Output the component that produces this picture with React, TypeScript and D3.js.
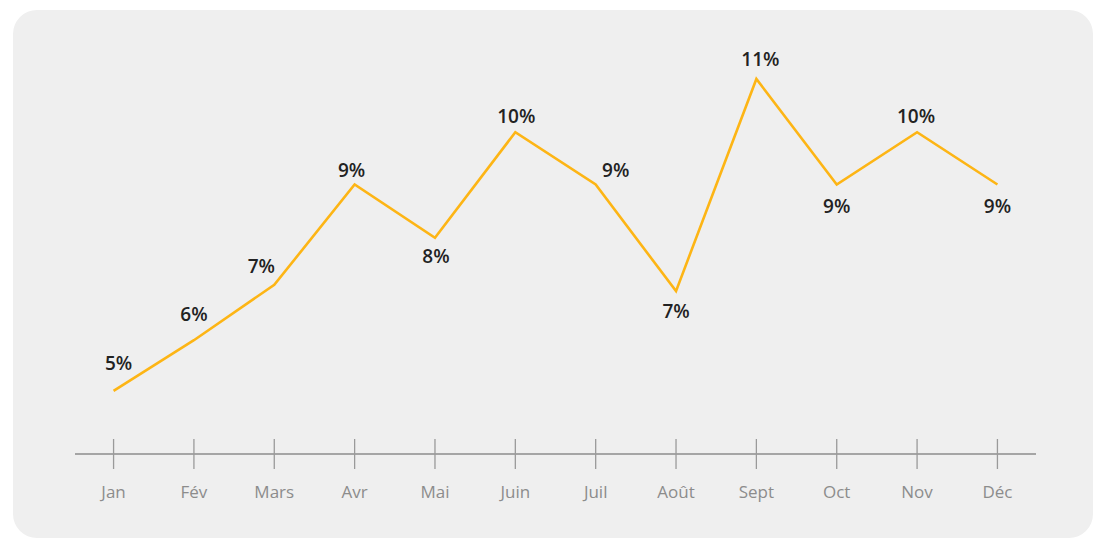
import React from "react";
import * as d3 from "d3";

const months = ["Jan", "Fév", "Mars", "Avr", "Mai", "Juin", "Juil", "Août", "Sept", "Oct", "Nov", "Déc"];
const rates = [5.05, 6.02, 7.08, 9.0, 7.98, 10.0, 9.0, 6.96, 11.02, 9.0, 10.0, 9.0];
const labels = ["5%", "6%", "7%", "9%", "8%", "10%", "9%", "7%", "11%", "9%", "10%", "9%"];

// label placement (layout only)
const labelDx = [5, 0, -13, -3, 1, 1, 20, 0, 4, 0, -1, 0];
const labelDy = [-28, -26, -19, -15, 18, -16, -15, 20, -20, 21, -16, 21];

const W = 1110;
const H = 551;

export default function App() {
  const x = d3.scalePoint<string>().domain(months).range([75, 1036]).padding(0.48);
  const y = d3.scaleLinear().domain([5, 11]).range([393.5, 80]);
  const line = d3
    .line<number>()
    .x((_, i) => x(months[i]) as number)
    .y((d) => y(d));
  const axisY = 454;
  return (
    <svg
      width={W}
      height={H}
      style={{ position: "absolute", left: 0, top: 0, display: "block" }}
    >
      <rect x={0} y={0} width={W} height={H} fill="#ffffff" />
      <rect x={13} y={10} width={1080} height={528} rx={24} ry={24} fill="#efefef" />
      <line x1={75} x2={1036} y1={axisY} y2={axisY} stroke="#8c8c8c" strokeWidth={1.3} />
      {months.map((m) => (
        <g key={m}>
          <line
            x1={x(m)}
            x2={x(m)}
            y1={axisY - 15}
            y2={axisY + 15}
            stroke="#9a9a9a"
            strokeWidth={1.3}
          />
          <text
            x={x(m)}
            y={491}
            textAnchor="middle"
            dominantBaseline="central"
            fontFamily="'Open Sans', sans-serif"
            fontSize={17}
            fill="#8c8c8c"
          >
            {m}
          </text>
        </g>
      ))}
      <path d={line(rates) || ""} fill="none" stroke="#fdb515" strokeWidth={2.6} strokeLinejoin="miter" />
      {rates.map((v, i) => (
        <text
          key={i}
          x={(x(months[i]) as number) + labelDx[i]}
          y={y(v) + labelDy[i]}
          textAnchor="middle"
          dominantBaseline="central"
          fontFamily="'Open Sans', sans-serif"
          fontWeight={600}
          fontSize={19}
          fill="#222222"
        >
          {labels[i]}
        </text>
      ))}
    </svg>
  );
}
